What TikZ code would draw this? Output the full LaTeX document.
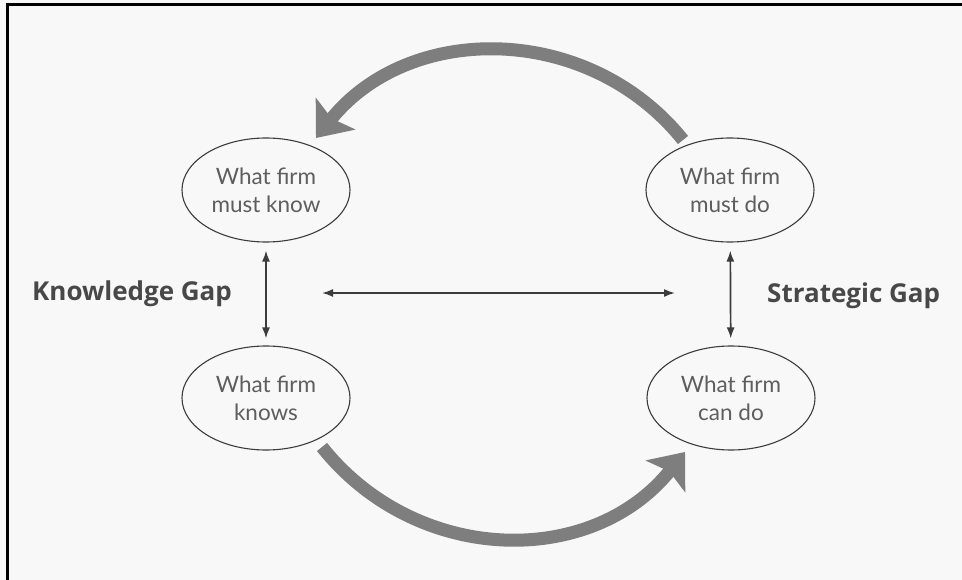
\documentclass[tikz,border=0pt]{standalone}
\usepackage{fontspec}
\newfontfamily\elfont{Lato}
\newfontfamily\gapfont{Open Sans}
\usetikzlibrary{shapes.geometric,arrows.meta}
\definecolor{paper}{HTML}{F8F8F8}
\definecolor{linegray}{HTML}{3C3C3C}
\definecolor{textgray}{HTML}{5E5E5E}
\definecolor{labelgray}{HTML}{484848}
\definecolor{biggray}{HTML}{7E7E7E}
\begin{document}
\begin{tikzpicture}[x=1pt,y=-1pt,
  stateell/.style={ellipse, draw=linegray, line width=1.1pt, minimum width=168pt, minimum height=104pt, inner sep=0pt, font=\elfont\fontsize{22.5}{28}\selectfont, text=textgray, align=center},
  gaplabel/.style={font=\gapfont\bfseries\fontsize{26}{30}\selectfont, text=labelgray, anchor=base west, inner sep=0pt},
  thinarrow/.style={draw=linegray, line width=1.7pt, {Latex[length=11pt,width=8pt]}-{Latex[length=11pt,width=8pt]}},
  bigarrow/.style={draw=biggray, line width=13pt, -{Stealth[length=31pt,width=50pt,inset=6pt]}}
]
\useasboundingbox (0,0) rectangle (962,580);
\fill[paper] (0,0) rectangle (962,580);
\draw[black, line width=3pt] (962,4.5) -- (7.5,4.5) -- (7.5,580);

\node[stateell] (know) at (266,190) {What firm\\must know};
\node[stateell] (mustdo) at (730,190) {What firm\\must do};
\node[stateell] (knows) at (266,398) {What firm\\knows};
\node[stateell] (cando) at (731,398) {What firm\\can do};

\draw[thinarrow, shorten <=8pt, shorten >=7pt] (know) -- (knows);
\draw[thinarrow, shorten <=8pt, shorten >=7pt] (mustdo) -- (cando);

\coordinate (hl) at (322,293);
\coordinate (hr) at (675,293);
\draw[thinarrow] (hl) -- (hr);

\node[gaplabel] (kg) at (32,301) {Knowledge Gap};
\node[gaplabel] (sg) at (767,302) {Strategic Gap};

\coordinate (t1) at (683,140);
\coordinate (t2) at (316,138);
\draw[bigarrow] (t1) .. controls (589,23) and (410,21) .. (t2);
\coordinate (b1) at (322,447);
\coordinate (b2) at (685,452);
\draw[bigarrow] (b1) .. controls (416,565) and (591,569) .. (b2);
\end{tikzpicture}
\end{document}
